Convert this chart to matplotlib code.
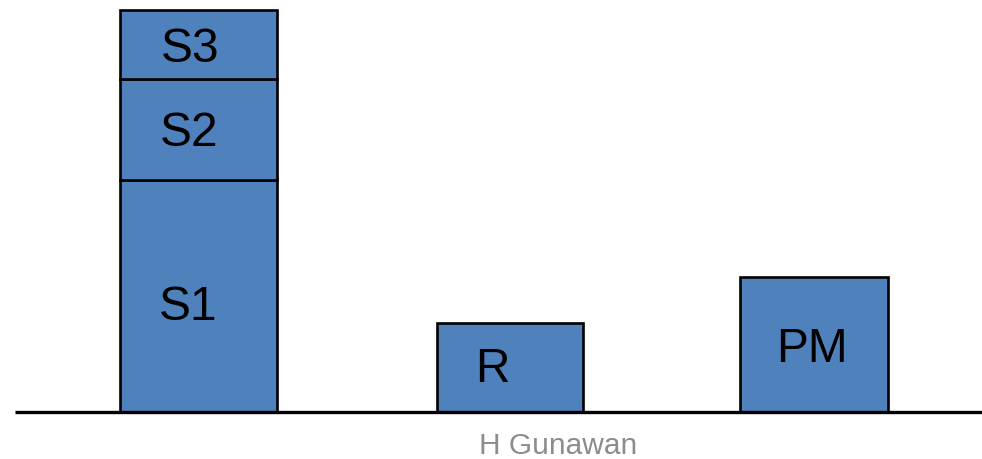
import matplotlib
matplotlib.use("Agg")
import matplotlib.pyplot as plt

# data
stack_labels = ["S1", "S2", "S3"]
stack_values = [2.32, 1.01, 0.69]
single_labels = ["R", "PM"]
single_values = [0.89, 1.35]
credit = "H Gunawan"

# layout (pixel-like units)
stack_x, stack_w = 199, 157
single_x = [510, 814]
single_w = [146, 148]
blue = "#4F81BD"

plt.rcParams['font.family'] = ['Liberation Sans', 'DejaVu Sans']
fig = plt.figure(figsize=(9.82, 4.59), dpi=100)
ax = fig.add_axes([0, 0, 1, 1])
ax.set_xlim(0, 982)
ax.set_ylim(-0.47, 4.12)
ax.axis('off')

bottom = 0
label_dx = [-11, -10, -9]
label_dy = [-0.11, -0.04, -0.05]
for lab, v, dx, dy in zip(stack_labels, stack_values, label_dx, label_dy):
    ax.bar(stack_x, v, width=stack_w, bottom=bottom, color=blue,
           edgecolor='black', linewidth=1.9, zorder=2)
    ax.text(stack_x + dx, bottom + v / 2 + dy, lab, ha='center', va='center',
            fontsize=34.5, color='black', zorder=3)
    bottom += v

label_pos = [(-18, 0.43), (-2, 0.63)]
for lab, v, x, w, (dx, ly) in zip(single_labels, single_values, single_x, single_w, label_pos):
    ax.bar(x, v, width=w, color=blue, edgecolor='black', linewidth=1.9, zorder=2)
    ax.text(x + dx, ly, lab, ha='center', va='center', fontsize=34.5,
            color='black', zorder=3)

ax.plot([15, 982], [0, 0], color='black', linewidth=2.4, zorder=4, solid_capstyle='butt')
ax.text(558, -0.345, credit, ha='center', va='center', fontsize=21.5, color='#8C8C8C')

fig.savefig("out.png", dpi=100)
